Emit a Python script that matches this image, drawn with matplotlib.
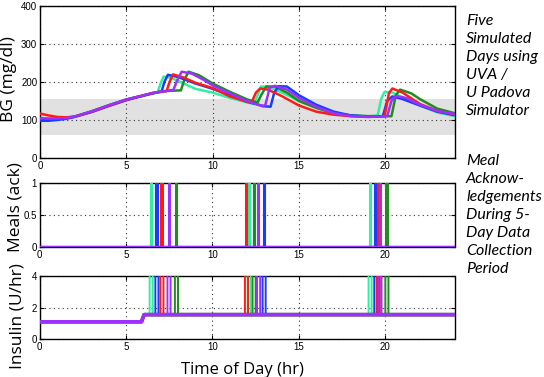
import numpy as np
import matplotlib
matplotlib.use("Agg")
import matplotlib.pyplot as plt

# series colours (one per simulated day)
names = ["cyan", "green", "blue", "red", "purple"]
colors = {"cyan": "#2ef0a0", "green": "#1e8c1e", "blue": "#1a3cff",
          "red": "#ff1a1a", "purple": "#9b30ff"}

# blood glucose (hr, mg/dl)
bg_t = {
    "cyan":   [0, 0.5, 1, 1.5, 2, 3, 4, 5, 6, 6.5, 6.8, 7.0, 7.15, 7.5, 8, 9, 10, 11, 12, 12.4, 12.55, 12.8, 13.2, 14, 15, 16, 17, 18, 19, 19.55, 19.75, 19.95, 20.4, 21, 22, 23, 24],
    "green":  [0, 0.5, 1, 1.5, 2, 3, 4, 5, 6, 7, 7.6, 8.16, 8.35, 8.6, 9.2, 10, 11, 12, 12.6, 12.8, 13.1, 13.6, 14.3, 15, 16, 17, 18, 19, 20.35, 20.6, 20.85, 21.5, 22, 23, 24],
    "blue":   [0, 0.5, 1, 1.5, 2, 3, 4, 5, 6, 6.5, 7.04, 7.2, 7.4, 8, 9, 10, 11, 12, 13, 13.35, 13.55, 13.8, 14.3, 15, 16, 17, 18, 19, 19.85, 20.1, 20.4, 21, 22, 23, 24],
    "red":    [0, 0.5, 1, 1.5, 2, 3, 4, 5, 6, 6.5, 7.0, 7.33, 7.5, 7.7, 8.3, 9, 10, 11, 12, 12.25, 12.5, 12.75, 13.2, 14, 15, 16, 17, 18, 19, 19.95, 20.2, 20.4, 21, 22, 23, 24],
    "purple": [0, 0.5, 1, 1.5, 2, 3, 4, 5, 6, 6.5, 7.2, 7.72, 7.95, 8.2, 8.8, 9.5, 10, 11, 12, 12.9, 13.05, 13.3, 13.6, 14.3, 15, 16, 17, 18, 19, 20.1, 20.35, 20.6, 21.2, 22, 23, 24],
}
bg_v = {
    "cyan":   [100, 101, 103, 105, 109, 123, 139, 154, 164, 170, 172, 198, 214, 212, 203, 182, 172, 158, 146, 142, 160, 188, 188, 172, 150, 132, 118, 112, 110, 112, 155, 174, 172, 160, 138, 120, 110],
    "green":  [102, 102, 103, 105, 109, 123, 139, 154, 165, 175, 177, 178, 205, 227, 218, 196, 174, 154, 146, 165, 188, 188, 172, 150, 132, 118, 112, 110, 110, 165, 180, 170, 155, 130, 118],
    "blue":   [98, 98, 100, 103, 108, 121, 137, 152, 164, 170, 175, 200, 219, 213, 196, 182, 165, 148, 136, 135, 170, 189, 188, 165, 140, 122, 112, 109, 110, 150, 162, 155, 138, 122, 113],
    "red":    [117, 112, 108, 107, 109, 122, 138, 153, 165, 171, 174, 176, 200, 220, 212, 198, 184, 162, 148, 146, 172, 183, 180, 163, 138, 122, 114, 110, 109, 110, 170, 183, 172, 142, 124, 115],
    "purple": [105, 104, 104, 105, 109, 123, 139, 154, 165, 171, 176, 179, 205, 227, 222, 205, 191, 170, 150, 136, 140, 185, 190, 180, 158, 135, 118, 110, 108, 110, 150, 163, 158, 140, 124, 116],
}

# meal acknowledgements (hr)
meal_times = {
    "cyan":   [6.47, 12.13, 19.13],
    "green":  [7.93, 12.42, 20.10],
    "blue":   [6.80, 13.00, 19.46],
    "red":    [7.09, 11.98, 19.60],
    "purple": [7.50, 12.68, 19.70],
}

# insulin: basal profile and boluses around the meal ack
basal_t = [0, 5.9, 6.05, 24]
basal_v = [1.1, 1.1, 1.55, 1.55]
bolus_rate = 6.0
bolus_before, bolus_after = 0.1, 0.08
meal_len = 0.07

target_lo, target_hi = 60, 155

plt.rcParams["font.family"] = ["Liberation Sans", "DejaVu Sans"]
fig = plt.figure(figsize=(5.44, 3.77), dpi=100)

ax1 = fig.add_axes([40/544, 1-158/377, 414.5/544, 152/377])
ax2 = fig.add_axes([39.5/544, 1-247/377, 415/544, 64/377])
ax3 = fig.add_axes([39.5/544, 1-339/377, 415/544, 63/377])

ax1.axhspan(target_lo, target_hi, color="#e1e1e1", zorder=0, lw=0)
for n in names:
    ax1.plot(bg_t[n], bg_v[n], color=colors[n], lw=1.8, zorder=3)

for n in names:
    tt, mm = [0], [0]
    for m in meal_times[n]:
        a, b = m - meal_len/2, m + meal_len/2
        tt += [a, a, b, b]
        mm += [0, 1, 1, 0]
    tt.append(24); mm.append(0)
    ax2.plot(tt, mm, color=colors[n], lw=1.5, zorder=3)
    ax2.plot([0, 24], [0, 0], color=colors[n], lw=2.2, zorder=3)

for n in names:
    pts = list(zip(basal_t, basal_v))
    for m in meal_times[n]:
        s, e = m - bolus_before, m + bolus_after
        pts += [(s, float(np.interp(s, basal_t, basal_v))), (s + 1e-4, bolus_rate),
                (e, bolus_rate), (e + 1e-4, float(np.interp(e, basal_t, basal_v)))]
    pts.sort()
    ax3.plot([p[0] for p in pts], [p[1] for p in pts], color=colors[n], lw=1.4, zorder=3)
    ax3.plot(basal_t, basal_v, color=colors[n], lw=2.4, zorder=3)

for ax, ylim, yt in [(ax1, (0, 400), [0, 100, 200, 300, 400]),
                     (ax2, (0, 1), [0, 0.5, 1]),
                     (ax3, (0, 4), [0, 2, 4])]:
    ax.set_xlim(0, 24)
    ax.set_ylim(*ylim)
    ax.set_yticks(yt)
    ax.set_yticklabels([("%g" % v) for v in yt])
    ax.set_xticks([0, 5, 10, 15, 20])
    ax.tick_params(direction="in", length=3, labelsize=7, top=True, right=True, pad=2)
    ax.grid(True, color="#333333", linestyle=(0, (1, 3)), lw=0.8)
    for s in ax.spines.values():
        s.set_linewidth(1.0)

lab = dict(family=["Open Sans", "DejaVu Sans"], fontsize=12.5, rotation=90, ha="center", va="center")
fig.text(9/544, 1-79/377, "BG (mg/dl)", **lab)
fig.text(16/544, 1-207/377, "Meals (ack)", **lab)
fig.text(18/544, 1-316/377, "Insulin (U/hr)", **lab)
fig.text(242/544, 1-370/377, "Time of Day (hr)", family=["Open Sans", "DejaVu Sans"],
         fontsize=12, ha="center", va="center")

side = dict(family=["Lato", "DejaVu Sans"], fontsize=11.5, style="italic",
            ha="left", va="top", linespacing=1.37)
fig.text(466/544, 1-14/377, "Five\nSimulated\nDays using\nUVA /\nU Padova\nSimulator", **side)
fig.text(466/544, 1-154/377, "Meal\nAcknow-\nledgements\nDuring 5-\nDay Data\nCollection\nPeriod", **side)

fig.savefig("out.png", dpi=100)
